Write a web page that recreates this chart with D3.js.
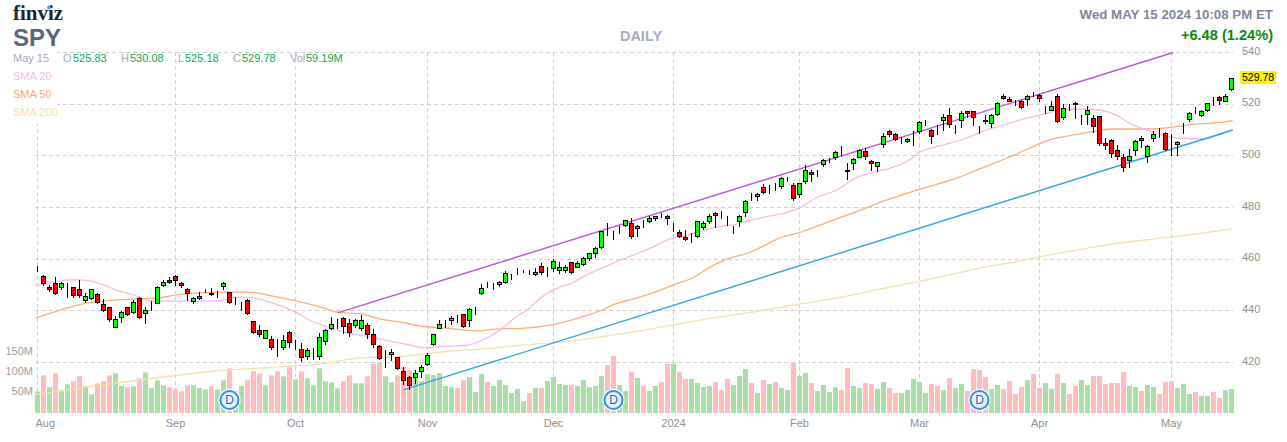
<!DOCTYPE html>
<html>
<head>
<meta charset="utf-8">
<title>SPY daily</title>
<script src="https://cdn.jsdelivr.net/npm/d3@7"></script>
<style>
  html, body { margin: 0; padding: 0; background: #fff; }
  svg { display: block; }
  text { font-family: "Liberation Sans", Arial, sans-serif; }
</style>
</head>
<body>
<div id="main-content"></div>
<script>
// Values, one entry per trading day (Aug 1 2023 - May 15 2024)
const opens = [
  456.2,453.27,448.9,450.44,448.89,448.5,448.89,448.11,444.12,444.89,446.18,442.31,441.15,433.67,437.54,441.15,439.47,444.63,438.83,442.96,
  442.96,449.66,451.6,453.14,450.44,448.11,443.47,444.89,448.4,446.82,446.57,449.27,446.95,443.34,442.96,443.86,435.73,432.25,429.42,429.03,
  426.71,425.68,431.48,427.1,424.9,422.2,424.9,422.2,428,433.28,436.25,436.9,434.96,434.19,433.03,434.19,430.71,426.06,420,422.97,
  421.81,416.39,414.07,414.07,416.39,419.36,426.84,433.3,435.73,436.12,437.28,438.44,436.12,439.99,446.56,450.05,449.79,450.05,450.82,453.14,
  455.2,455.2,454.95,454.04,457.01,455.98,456.24,455.72,455.46,458.56,456.88,457.78,460.1,462.04,464.62,472.23,469,471.58,472.87,473.64,
  471.71,473.64,474.42,475.58,476.87,476.35,472.48,470.16,468.23,467.84,468.62,472.1,474.42,477.51,477.51,475.32,472.1,474.42,477.9,483.7,
  484.09,487.57,487.96,487.57,487.96,490.79,488.34,484.86,489.89,493.37,493.76,496.47,498.02,499.18,500.98,494.48,496.85,499.43,501.49,497.63,
  495.69,504.2,509.23,508.07,506.91,505.36,508.07,509.23,511.94,510,510.13,513.49,515.42,511.04,513.49,516.97,516.97,510,513.87,512.33,
  515.81,523.16,522,519.8,521.22,522,523.54,523.54,518.52,517.74,523.16,514.65,519.03,520.45,514,515.81,514.26,515.04,504.59,505.75,
  501.88,499.18,498.02,501.88,506.53,499.56,506.53,510.14,508.46,500.85,504.21,511.3,513.88,517.49,515.42,517.74,521.61,522.39,521.22,525.83
];
const highs = [
  457.1,453.66,449.66,452.76,450.8,450.44,449.15,451.72,446.57,448.11,446.57,444.25,441.15,437.8,439.86,441.41,443.99,445.02,441.15,443.73,
  449.4,451.72,452.76,453.53,450.82,448.5,445.02,446.95,448.4,448.5,447.6,450.82,447.21,445.02,443.2,444.25,435.73,434.3,432.38,430.06,
  428.77,430.45,432,428.51,427.22,425.29,425.42,431.09,432.64,437.54,436.64,437.54,436.51,436.51,438.18,434.96,432.64,426.45,424.65,424.9,
  421.81,417.94,414.59,416.91,418.84,423.36,430.84,436.25,436.38,437.8,438.18,438.44,440.76,441.28,450.18,451.08,450.43,451.47,455.2,454.04,
  456.24,455.59,455.59,456.24,458.17,456.62,459.72,458.69,457.4,458.69,458.94,460.49,462.3,464.36,470.81,473.9,470.55,472.61,474.93,475.71,
  473.13,474.93,476.48,476.48,477.51,476.74,473.9,471.07,471.07,470.03,474.68,474.68,477.13,478.03,478.41,476.48,472.61,476.74,482.67,485.25,
  485.25,488.86,488.34,489.12,491.44,491.44,489.12,489.12,496.21,494.28,494.28,498.4,498.79,501.5,503.56,497.11,498.92,502.27,502.65,498.14,
  497.5,508.46,510,508.72,507.17,506.52,509.49,513.1,513.87,510.26,511.81,515.81,518.13,511.55,517.23,517.23,517.23,511.3,515.42,515.94,
  520.71,523.93,522.64,521.35,521.61,523.42,524.45,523.93,519.03,520.84,523.55,520.06,520.06,520.58,515.55,519.29,515.55,515.04,506.65,506.14,
  503.82,500.47,502.27,505.88,507.43,504.08,509.49,510.52,508.98,508.2,505.62,512.33,516.71,518.52,517.74,520.32,522.39,522.9,523.55,530.08
];
const lows = [
  455.3,449.66,447.6,446.31,448.1,445.28,445.28,445.02,443.34,444.5,442.7,439.86,436,433.4,435.6,438.06,439.09,437.15,435.22,440.12,
  442.7,449.4,450.44,449.79,449.15,443.99,442.96,444.5,446.95,445.92,445.28,448.11,442.96,442.44,440.12,438.57,431.35,430.06,429.16,425.16,
  422.32,425.16,425.8,424.9,420.52,421.03,421.03,421.03,426.97,432.64,433.16,431.35,430.06,433.67,432.38,429.42,425.93,421.29,417.94,420.77,
  417.17,411.49,409.43,411.75,414.33,418.97,426.58,433.3,433.67,434.57,435.35,433.54,434.06,438.7,446.31,448.89,448.37,449.4,450.69,452.24,
  454.04,454.82,454.04,453.79,454.04,453.27,455.33,454.56,454.95,454.56,456.62,457.4,459.46,460.75,464.1,469.26,467.46,470.03,472.61,467.97,
  468.75,472.1,474.16,474.93,476.22,473.39,470.68,468.23,467.2,466.55,468.49,471.58,473.64,472.35,475.58,473.13,470.03,472.61,476.48,482.67,
  482.67,485.25,485.51,486.54,487.31,490.15,482.8,483.96,489.38,490.15,491.96,495.82,497.5,498.66,500.21,490.92,494.53,499.17,498.66,494.27,
  493.76,503.3,507.43,505.88,504.85,505.11,504.07,508.72,511.81,504.85,508.2,510,511.04,508.72,511.04,514.65,511.81,508.46,512.58,510.78,
  515.42,521.87,520.84,519.55,518.39,519.55,522.9,521.1,516.45,517.48,512.84,514.13,517.74,514.39,512.07,512.07,508.98,503.82,502.53,499.18,
  498.4,494.02,495.57,499.95,503.3,497.5,505.62,507.17,502.01,499.95,499.95,508.72,513.36,516.2,515.17,516.97,519.55,519.81,520.97,525.18
];
const closes = [
  456.3,450.44,448.4,446.82,450.44,448.5,446.05,446.05,445.41,448.11,443.08,439.99,436.51,436.51,439.22,438.44,443.08,437.28,439.99,442.96,
  448.89,450.82,450.82,451.6,449.66,446.57,444.63,445.41,448.37,446.18,446.57,450.44,443.34,443.34,442.96,438.83,431.74,430.71,432.25,425.93,
  426.71,428.38,427.61,427.1,421.81,424.52,424.9,429.55,432.25,434.57,436.25,433.8,431.74,436.12,436.12,430.71,426.84,421.42,420,423.74,
  417.81,412.91,410.98,415.62,418.2,422.58,430.71,434.57,435.73,436.9,437.28,434.06,440.38,439.99,448.5,450.05,449.79,450.82,454.3,453.14,
  455.2,455.2,454.95,454.82,454.95,455.98,458.94,456.62,456.62,454.95,458.17,460.1,462.04,463.97,470.55,472.23,469,471.58,474.81,468.62,
  472.61,473.64,475.58,476.35,476.87,475.58,472.48,468.87,467.45,467.84,474.42,473.64,476.35,476.74,477.51,475.32,472.1,476.35,482.15,483.7,
  484.86,485.64,487.96,487.57,491.05,490.79,483.31,489.12,494.15,492.6,493.76,498.02,498.02,501.11,500.98,494.05,498.4,501.88,499.56,496.85,
  497.24,507.3,508.07,506.14,506.91,506.14,508.07,512.71,511.94,507.3,510.13,514.65,511.94,511.04,516.58,516.2,515.03,510,513.1,515.42,
  520.45,522.38,521.22,519.8,518.9,523.16,523.54,522.38,518.52,519.29,513.1,518.13,519.03,519.68,514,517.74,511.17,504.59,503.82,500.72,
  499.56,495.31,499.56,505.36,505.75,503.43,508.07,510.14,502.27,500.85,504.98,511.3,516.58,517.49,516.97,520.07,521.61,521.35,523.16,529.78
];
// volume in millions
const volumes = [
  53.5,93,63.4,97.9,56,70.8,78.2,90.5,65.8,46.1,73.3,78.2,93,97.9,66.7,63.4,65.8,85.6,100.4,61.7,
  80.7,68.3,63.4,58.4,53.5,68.3,68.3,61.7,58.4,65.8,58.4,80.7,110.3,55,66.7,80.7,102.9,97.9,68.3,93,
  102.9,90.5,112.8,83.1,102.9,85.6,68.3,110.3,78.2,75.7,60.9,78.2,93,73.3,73.3,90.5,121,124.3,90.5,75.7,
  93,112.8,105.3,85.6,79,96.3,93.8,98.8,66.7,64.2,61.7,81.5,88.9,51.9,96.3,76.5,66.7,81.5,69.1,49.4,
  59.3,29.6,49.4,61.7,61.7,79,88.9,71.6,69.1,69.1,66.7,81.5,64.2,66.7,91.4,118.5,140.7,69.1,54.3,101.2,
  86.4,66.7,54.3,66.7,76.5,121,121,101.2,84,84,74.1,64.2,66.7,76.5,56.8,84,69.1,91.4,108.6,74.1,
  49.4,81.5,71.6,76.5,61.7,56.8,124.3,91.4,98.8,74.1,54.3,69.1,51.9,64.2,56.8,111.1,66.7,61.7,74.1,71.6,
  59.3,76.5,61.7,49.4,49.4,56.8,84,76.5,49.4,71.6,66.7,56.8,86.4,61.7,71.6,54.3,108.6,106.2,88.9,59.3,
  69.1,59.3,79,46.9,64.2,81.5,96.3,61.7,74.1,59.3,96.3,74.1,46.9,66.7,81.5,69.1,91.4,91.4,71.6,74.1,
  74.1,101.2,66.7,64.2,54.3,69.1,64.2,46.9,76.5,79,61.7,71.6,46.9,51.9,42,42,51.9,37,56.8,59.19
];
// 1 = green volume bar, 0 = red volume bar
const volumeUp = [
  1,0,1,0,1,1,0,0,1,1,0,0,0,1,1,0,1,0,1,1,
  1,1,0,0,0,0,1,1,1,0,1,1,0,1,1,0,0,0,1,0,
  0,1,0,1,0,1,1,1,1,1,1,0,0,1,1,0,0,0,1,1,
  0,0,0,1,1,1,1,1,1,1,0,0,1,1,1,0,1,1,1,1,
  1,1,0,1,0,1,1,1,1,0,1,1,1,1,1,0,0,1,1,0,
  1,0,1,1,0,0,1,0,0,1,1,1,1,0,0,0,1,1,1,0,
  1,0,1,0,1,1,0,1,1,0,1,1,1,1,0,0,1,1,0,0,
  1,1,0,0,1,1,1,1,1,0,0,1,0,1,1,0,0,0,0,1,
  1,0,0,0,0,1,0,0,1,1,0,1,0,0,1,1,0,0,0,0,
  0,0,1,1,0,1,1,0,0,0,1,1,1,0,1,1,0,0,1,1
];

// moving averages, read at the bars listed
const sma20Bars = [-0.3,3,5.5,7,9.4,11,13.3,16,17.7,18.8,23,30.5,33,35,37.8,40.5,43,45.5,47.7,51.6,55,57.7,61.6,64.7,68,71.3,74,77,79.7,82,84,87,88.8,91,94.4,97.2,100.5,102.7,105,108.3,111,113,116,118,121.5,124,127,130,133,136.6,139.4,142,145,147,150.5,154.4,157.8,161.6,165,168.3,171,174.4,177,180,182,184.4,186.6,190,194.4,196.7,199.2];
const sma20Values = [449.92,451.34,451.98,451.98,451.34,450.05,447.86,446.18,444.63,443.86,443.73,443.99,445.28,445.28,443.99,442.05,439.47,436.25,434.32,431.35,430.06,428.77,426.97,425.68,426.32,426.58,428.51,432.38,437.54,441.02,445.28,449.15,450.43,453.27,456.88,459.71,462.68,464.87,467.45,469.25,471.06,472.36,473.26,474.55,476.48,477.51,479.83,483.96,486.54,491.69,493.63,495.18,497.88,501.37,503.94,506.52,509.75,512.33,514.65,516.45,517.87,518.13,517.74,515.55,512.59,510.4,508.72,506.91,506.53,507.82,510.14];
const sma50Bars = [-0.3,2.2,5,8.3,12.7,17.2,20,23.3,27.2,30.5,35.5,38.8,43.3,47.2,50,54,57,60.5,64.4,68,70.8,73.3,76.3,81.3,85.7,90.2,94.7,96,99.4,102.7,106,109.4,111.6,115,118.3,122,123.3,127.2,132.4,135.5,141.6,147.2,153.3,157,161.6,165,168.3,172,176,179,184.4,189,192.2,197.2,199.2];
const sma50Values = [437.28,439.09,441.15,443.08,444.12,444.63,444.89,446.31,446.95,447.21,447.21,445.92,443.73,441.41,439.47,438.83,436.9,435.61,433.93,433.28,432.64,432.25,432.9,433.28,434.57,437.28,440.9,442.43,444.63,447.07,450.04,453.01,456.23,460.1,462.29,466.29,467.84,470.42,474.93,477.51,482.93,487.18,491.44,494.92,499.17,502.65,505.88,507.82,509.49,510.39,510.39,511.04,512.07,512.97,513.62];
const sma200Bars = [-0.3,23,30.5,38.8,47.2,54,60.5,64.7,70,76,81.3,87,94.7,99.4,106,112.7,117.2,127.2,133.3,140.5,147.2,152.7,158.3,162.7,167.2,172.7,177.2,182.7,189.1,193.9,199.1];
const sma200Values = [407.6,414.97,416.91,418.07,419.49,421.81,422.32,423.36,424.65,425.55,426.84,427.87,430.19,431.86,434.57,437.28,438.82,442.69,445.01,448.49,451.46,454.3,457.13,458.81,461,463.32,465.13,466.94,468.61,470.03,471.71];

// trend lines: bar, price at each end
const upperTrendBars = [50, 189.3];
const upperTrendPrices = [439.2, 540];
const lowerTrendBars = [61, 199.2];
const lowerTrendPrices = [409.4, 510];

const priceTicks = [420, 440, 460, 480, 500, 520, 540];
const volumeTicks = [50, 100, 150];
const dateTickBars = [0, 23, 43, 65, 86, 106, 127, 147, 167, 189];
const dateTickLabels = ["Aug", "Sep", "Oct", "Nov", "Dec", "2024", "Feb", "Mar", "Apr", "May"];
const dividendBars = [32, 96, 157];

const legendLabels = ["O", "H", "L", "C", "Vol"];
const legendValues = ["525.83", "530.08", "525.18", "529.78", "59.19M"];

const width = 1287;
const height = 442;

const svg = d3.select("#main-content")
  .append("svg")
  .attr("width", width)
  .attr("height", height);

const x = d3.scaleLinear().domain([0, 199]).range([37, 1231]);
const y = d3.scaleLinear().domain([420, 540]).range([362, 52]);
const yVol = d3.scaleLinear().domain([0, 150]).range([413, 352.25]);

const px = v => Math.round(x(v));
const py = v => Math.round(y(v));
const bars = d3.range(closes.length);

// Grid
const gridColor = "#cfcfcf";
svg.append("g")
  .selectAll("line")
  .data(priceTicks)
  .enter()
  .append("line")
  .attr("x1", 35)
  .attr("x2", 1233)
  .attr("y1", d => py(d) + 0.5)
  .attr("y2", d => py(d) + 0.5)
  .attr("stroke", gridColor)
  .attr("stroke-dasharray", "4,3");

svg.append("g")
  .selectAll("line")
  .data(dateTickBars)
  .enter()
  .append("line")
  .attr("x1", d => px(d) + 0.5)
  .attr("x2", d => px(d) + 0.5)
  .attr("y1", 52)
  .attr("y2", 413)
  .attr("stroke", gridColor)
  .attr("stroke-dasharray", "4,3");

// the legend block sits on a white patch that hides the grid
svg.append("rect")
  .attr("x", 10)
  .attr("y", 50)
  .attr("width", 47)
  .attr("height", 74)
  .attr("fill", "#fff");

// Axes, only the labels are kept
const priceAxis = svg.append("g")
  .attr("transform", "translate(1242,1)")
  .call(d3.axisRight(y).tickValues(priceTicks).tickSize(0).tickPadding(0));
priceAxis.select(".domain").remove();
priceAxis.selectAll("text")
  .attr("font-family", null)
  .attr("font-size", 11)
  .attr("dy", "0.1em")
  .attr("fill", "#8f8f8f");

const volAxis = svg.append("g")
  .attr("transform", "translate(33,0)")
  .call(d3.axisLeft(yVol).tickValues(volumeTicks).tickSize(0).tickPadding(0).tickFormat(d => d + "M"));
volAxis.select(".domain").remove();
volAxis.selectAll("text")
  .attr("font-family", null)
  .attr("font-size", 11)
  .attr("dy", "0.2em")
  .attr("fill", "#a0a0a0");

const dateAxis = svg.append("g")
  .attr("transform", "translate(0,419)")
  .call(d3.axisBottom(x).tickValues(dateTickBars).tickSize(0).tickPadding(0)
    .tickFormat((d, i) => dateTickLabels[i]));
dateAxis.select(".domain").remove();
dateAxis.selectAll("text")
  .attr("font-family", null)
  .attr("font-size", 11)
  .attr("fill", "#8f8f8f")
  .attr("text-anchor", (d, i) => i === 0 ? "start" : "middle")
  .attr("dx", (d, i) => i === 0 ? -2 : 0);

// Volume
svg.append("g")
  .selectAll("rect")
  .data(bars)
  .enter()
  .append("rect")
  .attr("x", d => px(d) - 2)
  .attr("width", 5)
  .attr("y", d => yVol(volumes[d]))
  .attr("height", d => 413 - yVol(volumes[d]))
  .attr("fill", d => volumeUp[d] ? "#a9dfa6" : "#ffbdbd");

// Moving averages
const priceLine = d3.line()
  .x(d => x(d[0]) + 0.5)
  .y(d => y(d[1]) + 0.5)
  .curve(d3.curveMonotoneX);

function drawLine(barList, valueList, color, lineWidth) {
  svg.append("path")
    .datum(barList.map((b, i) => [b, valueList[i]]))
    .attr("d", priceLine)
    .attr("fill", "none")
    .attr("stroke", color)
    .attr("stroke-width", lineWidth);
}

drawLine(sma200Bars, sma200Values, "#f5dfae", 1.3);
drawLine(sma50Bars, sma50Values, "#ffad72", 1.3);
drawLine(sma20Bars, sma20Values, "#f6bbe6", 1.3);
drawLine(upperTrendBars, upperTrendPrices, "#bd55d6", 1.4);
drawLine(lowerTrendBars, lowerTrendPrices, "#2fa5e2", 1.4);

// Candles
const candles = svg.append("g")
  .selectAll("g")
  .data(bars)
  .enter()
  .append("g");

candles.append("line")
  .attr("x1", d => px(d) + 0.5)
  .attr("x2", d => px(d) + 0.5)
  .attr("y1", d => py(highs[d]))
  .attr("y2", d => py(lows[d]) + 1)
  .attr("stroke", "#000");

candles.append("rect")
  .attr("x", d => px(d) - 1.5)
  .attr("width", 4)
  .attr("y", d => py(Math.max(opens[d], closes[d])) + 0.5)
  .attr("height", d => py(Math.min(opens[d], closes[d])) - py(Math.max(opens[d], closes[d])))
  .attr("fill", d => closes[d] >= opens[d] ? "#00ff00" : "#ff0000")
  .attr("stroke", "#000");

// Dividend badges
const badges = svg.append("g")
  .selectAll("g")
  .data(dividendBars)
  .enter()
  .append("g")
  .attr("transform", d => "translate(" + (px(d) + 0.5) + ",400)");

badges.append("circle").attr("r", 11).attr("fill", "#fff");
badges.append("circle")
  .attr("r", 9)
  .attr("fill", "#e8f1fc")
  .attr("stroke", "#2f8ceb")
  .attr("stroke-width", 2);
badges.append("text")
  .attr("text-anchor", "middle")
  .attr("y", 4)
  .attr("font-size", 12)
  .attr("fill", "#2468c8")
  .text("D");

// Header
function label(xPos, yPos, str, size, color, weight, anchor) {
  return svg.append("text")
    .attr("x", xPos)
    .attr("y", yPos)
    .attr("font-size", size)
    .attr("fill", color)
    .attr("font-weight", weight || "normal")
    .attr("text-anchor", anchor || "start")
    .text(str);
}

label(13, 20, "finviz", 21, "#20242e", "bold").style("font-family", "'Liberation Serif', serif");
svg.append("circle").attr("cx", 49).attr("cy", 7.5).attr("r", 2).attr("fill", "#4b9ff5");
label(13, 46, "SPY", 24, "#5d6579", "bold");
label(641, 41, "DAILY", 14.5, "#a8aec0", "bold", "middle");
label(1273, 19, "Wed MAY 15 2024 10:08 PM ET", 13.3, "#7f8699", "bold", "end");
label(1273, 40, "+6.48 (1.24%)", 14.6, "#0a8c0a", "bold", "end");

label(13, 62, "May 15", 11, "#a5abbf");
const legendLabelX = [63, 121, 178, 233, 290];
const legendValueX = [73, 130, 185, 242, 306];
legendLabels.forEach((d, i) => {
  label(legendLabelX[i], 62, d, 11, "#a5abbf");
  label(legendValueX[i], 62, legendValues[i], 11, "#0aa858");
});
label(13, 80, "SMA 20", 11, "#f6bbe6");
label(13, 98, "SMA 50", 11, "#ffa562");
label(13, 116, "SMA 200", 11, "#f5dfae");

// Last price tag
svg.append("rect")
  .attr("x", 1240)
  .attr("y", 71)
  .attr("width", 36)
  .attr("height", 13)
  .attr("fill", "#fff200");
label(1242, 81, closes[closes.length - 1].toFixed(2), 10.5, "#000");
</script>
</body>
</html>
